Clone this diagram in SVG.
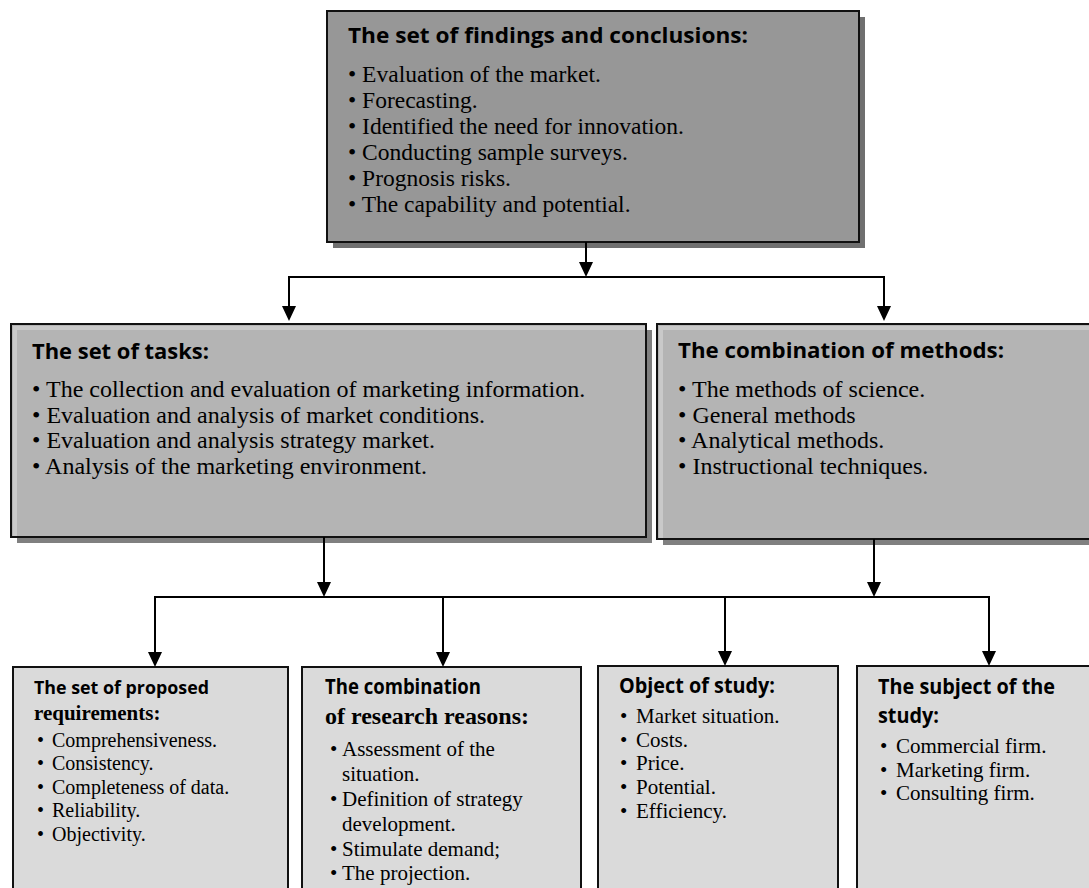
<svg xmlns="http://www.w3.org/2000/svg" width="1089" height="888" viewBox="0 0 1089 888">
<defs>
<marker id="ah" viewBox="0 0 15 14" refX="7" refY="7" markerWidth="15" markerHeight="14" markerUnits="userSpaceOnUse" orient="auto">
<path d="M0,0 L15,7 L0,14 Z" fill="#000"/>
</marker>
<style>
.box{stroke:#111;stroke-width:2}
.top{fill:#979797}
.mid{fill:#b4b4b4}
.bot{fill:#dadada}
.sh1{fill:#707070}
.sh2{fill:#808080}
.hl{fill:none;stroke:#c9c9c9;stroke-width:4}
.hd{font-family:"Open Sans","Liberation Sans",sans-serif;font-weight:bold;fill:#000}
.hs{font-family:"Liberation Serif","Times New Roman",serif;font-weight:bold;fill:#000}
.tx{font-family:"Liberation Serif","Times New Roman",serif;fill:#000}
.ln{fill:none;stroke:#000;stroke-width:2}
</style>
</defs>
<rect width="1089" height="888" fill="#fff"/>

<g id="findings">
<rect class="sh1" x="333" y="17" width="532" height="231"/>
<rect class="box top" x="327" y="11" width="532" height="231"/>
<text class="hd" x="348" y="43" font-size="21" textLength="400" lengthAdjust="spacingAndGlyphs">The set of findings and conclusions:</text>
<text class="tx" font-size="23.5">
<tspan x="348" y="82">• Evaluation of the market.</tspan>
<tspan x="348" y="108">• Forecasting.</tspan>
<tspan x="348" y="134">• Identified the need for innovation.</tspan>
<tspan x="348" y="160">• Conducting sample surveys.</tspan>
<tspan x="348" y="186">• Prognosis risks.</tspan>
<tspan x="348" y="212">• The capability and potential.</tspan>
</text>
</g>

<g id="tasks">
<rect class="sh2" x="17" y="330" width="635" height="213"/>
<rect class="box mid" x="11" y="324" width="635" height="213"/>
<polyline class="hl" points="15,536 15,328 645,328"/>
<text class="hd" x="32" y="359" font-size="22" textLength="177" lengthAdjust="spacingAndGlyphs">The set of tasks:</text>
<text class="tx" font-size="24">
<tspan x="32" y="397">• The collection and evaluation of marketing information.</tspan>
<tspan x="32" y="423">• Evaluation and analysis of market conditions.</tspan>
<tspan x="32" y="448">• Evaluation and analysis strategy market.</tspan>
<tspan x="32" y="474">• Analysis of the marketing environment.</tspan>
</text>
</g>

<g id="methods">
<rect class="sh2" x="663" y="330" width="440" height="215"/>
<rect class="box mid" x="657" y="324" width="440" height="215"/>
<polyline class="hl" points="661,538 661,328 1095,328"/>
<text class="hd" x="678" y="358" font-size="22" textLength="326" lengthAdjust="spacingAndGlyphs">The combination of methods:</text>
<text class="tx" font-size="24">
<tspan x="678" y="397">• The methods of science.</tspan>
<tspan x="678" y="423">• General methods</tspan>
<tspan x="678" y="448">• Analytical methods.</tspan>
<tspan x="678" y="474">• Instructional techniques.</tspan>
</text>
</g>

<g id="requirements">
<rect class="box bot" x="13" y="667" width="275" height="240"/>
<text class="hd" x="34" y="694" font-size="17" textLength="175" lengthAdjust="spacingAndGlyphs">The set of proposed</text>
<text class="hs" x="34" y="720" font-size="21">requirements:</text>
<text class="tx" font-size="20">
<tspan x="37" y="747">•</tspan><tspan x="52" y="747">Comprehensiveness.</tspan>
<tspan x="37" y="770">•</tspan><tspan x="52" y="770">Consistency.</tspan>
<tspan x="37" y="794">•</tspan><tspan x="52" y="794">Completeness of data.</tspan>
<tspan x="37" y="817">•</tspan><tspan x="52" y="817">Reliability.</tspan>
<tspan x="37" y="841">•</tspan><tspan x="52" y="841">Objectivity.</tspan>
</text>
</g>

<g id="reasons">
<rect class="box bot" x="302" y="667" width="279" height="240"/>
<text class="hd" x="325" y="694" font-size="21" textLength="156" lengthAdjust="spacingAndGlyphs">The combination</text>
<text class="hs" x="325" y="724" font-size="24">of research reasons:</text>
<text class="tx" font-size="21">
<tspan x="330" y="756">•</tspan><tspan x="342" y="756">Assessment of the</tspan>
<tspan x="342" y="781">situation.</tspan>
<tspan x="330" y="806">•</tspan><tspan x="342" y="806">Definition of strategy</tspan>
<tspan x="342" y="831">development.</tspan>
<tspan x="330" y="856">•</tspan><tspan x="342" y="856">Stimulate demand;</tspan>
<tspan x="330" y="880">•</tspan><tspan x="342" y="880">The projection.</tspan>
</text>
</g>

<g id="object">
<rect class="box bot" x="598" y="666" width="240" height="240"/>
<text class="hd" x="619" y="693" font-size="21" textLength="156" lengthAdjust="spacingAndGlyphs">Object of study:</text>
<text class="tx" font-size="21">
<tspan x="620" y="723">•</tspan><tspan x="636" y="723">Market situation.</tspan>
<tspan x="620" y="747">•</tspan><tspan x="636" y="747">Costs.</tspan>
<tspan x="620" y="770">•</tspan><tspan x="636" y="770">Price.</tspan>
<tspan x="620" y="794">•</tspan><tspan x="636" y="794">Potential.</tspan>
<tspan x="620" y="818">•</tspan><tspan x="636" y="818">Efficiency.</tspan>
</text>
</g>

<g id="subject">
<rect class="box bot" x="857" y="666" width="250" height="240"/>
<text class="hd" x="878" y="694" font-size="21" textLength="177" lengthAdjust="spacingAndGlyphs">The subject of the</text>
<text class="hd" x="878" y="723" font-size="21" textLength="61" lengthAdjust="spacingAndGlyphs">study:</text>
<text class="tx" font-size="21">
<tspan x="880" y="753">•</tspan><tspan x="896" y="753">Commercial firm.</tspan>
<tspan x="880" y="777">•</tspan><tspan x="896" y="777">Marketing firm.</tspan>
<tspan x="880" y="800">•</tspan><tspan x="896" y="800">Consulting firm.</tspan>
</text>
</g>

<g id="connectors">
<line class="ln" x1="586" y1="242" x2="586" y2="269" marker-end="url(#ah)"/>
<line class="ln" x1="289" y1="277" x2="884" y2="277"/>
<line class="ln" x1="289" y1="276" x2="289" y2="313" marker-end="url(#ah)"/>
<line class="ln" x1="884" y1="276" x2="884" y2="313" marker-end="url(#ah)"/>
<line class="ln" x1="324" y1="537" x2="324" y2="589" marker-end="url(#ah)"/>
<line class="ln" x1="874" y1="539" x2="874" y2="589" marker-end="url(#ah)"/>
<line class="ln" x1="155" y1="597" x2="989" y2="597"/>
<line class="ln" x1="155" y1="596" x2="155" y2="659" marker-end="url(#ah)"/>
<line class="ln" x1="443" y1="596" x2="443" y2="659" marker-end="url(#ah)"/>
<line class="ln" x1="725" y1="596" x2="725" y2="658" marker-end="url(#ah)"/>
<line class="ln" x1="989" y1="596" x2="989" y2="658" marker-end="url(#ah)"/>
</g>
</svg>
